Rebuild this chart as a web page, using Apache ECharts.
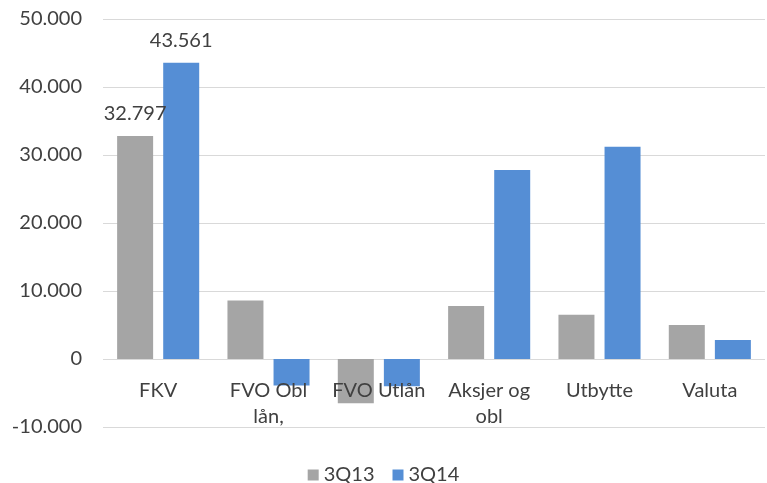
<!DOCTYPE html>
<html><head><meta charset="utf-8">
<script src="https://cdn.jsdelivr.net/npm/echarts@6/dist/echarts.min.js"></script>
<style>html,body{margin:0;padding:0;background:#fff}#c{width:767px;height:483px}</style>
</head><body><div id="c"></div>
<script>
const categories = ['FKV', 'FVO Obl\nlån,', 'FVO Utlån', 'Aksjer og\nobl', 'Utbytte', 'Valuta'];
const seriesNames = ['3Q13', '3Q14'];
const values3Q13 = [32797, 8600, -6500, 7800, 6500, 5000];
const values3Q14 = [43561, -3900, -4000, 27800, 31200, 2800];
const yTicks = { min: -10000, max: 50000, interval: 10000 };

const fmt = v => {
  const s = Math.abs(v).toString().replace(/\B(?=(\d{3})+(?!\d))/g, '.');
  return (v < 0 ? '-' : '') + s;
};
const font = 'Lato, "Open Sans", sans-serif';
const chart = echarts.init(document.getElementById('c'));
chart.setOption({
  animation: false,
  textStyle: { fontFamily: font },
  grid: { left: 103, right: 2, top: 19, bottom: 56, outerBoundsMode: 'none', containLabel: false },
  legend: {
    top: 463, left: 'center', itemWidth: 11, itemHeight: 11, itemGap: 18,
    padding: [2, 5],
    icon: 'rect',
    textStyle: { fontSize: 20, color: '#404040', fontFamily: font },
    data: seriesNames
  },
  xAxis: {
    type: 'category', data: categories,
    position: 'bottom',
    offset: -68,
    z: 10,
    axisLine: { show: false, onZero: false },
    axisTick: { show: false },
    axisLabel: { fontSize: 20, color: '#404040', margin: 19, lineHeight: 26, interval: 0 }
  },
  yAxis: {
    type: 'value', min: yTicks.min, max: yTicks.max, interval: yTicks.interval,
    axisLine: { show: false }, axisTick: { show: false },
    splitLine: { lineStyle: { color: '#d9d9d9' } },
    axisLabel: { fontSize: 20, color: '#404040', margin: 21, formatter: fmt }
  },
  series: [
    { name: seriesNames[0], type: 'bar', data: values3Q13, barWidth: 36, barGap: '28%',
      itemStyle: { color: '#a5a5a5' }, z: 2,
      label: { show: true, position: 'top', distance: 12, fontSize: 20, color: '#404040',
        formatter: p => p.dataIndex === 0 ? fmt(p.value) : '' } },
    { name: seriesNames[1], type: 'bar', data: values3Q14, barWidth: 36,
      itemStyle: { color: '#558ed5' }, z: 2,
      label: { show: true, position: 'top', distance: 12, fontSize: 20, color: '#404040',
        formatter: p => p.dataIndex === 0 ? fmt(p.value) : '' } }
  ]
});
</script></body></html>
